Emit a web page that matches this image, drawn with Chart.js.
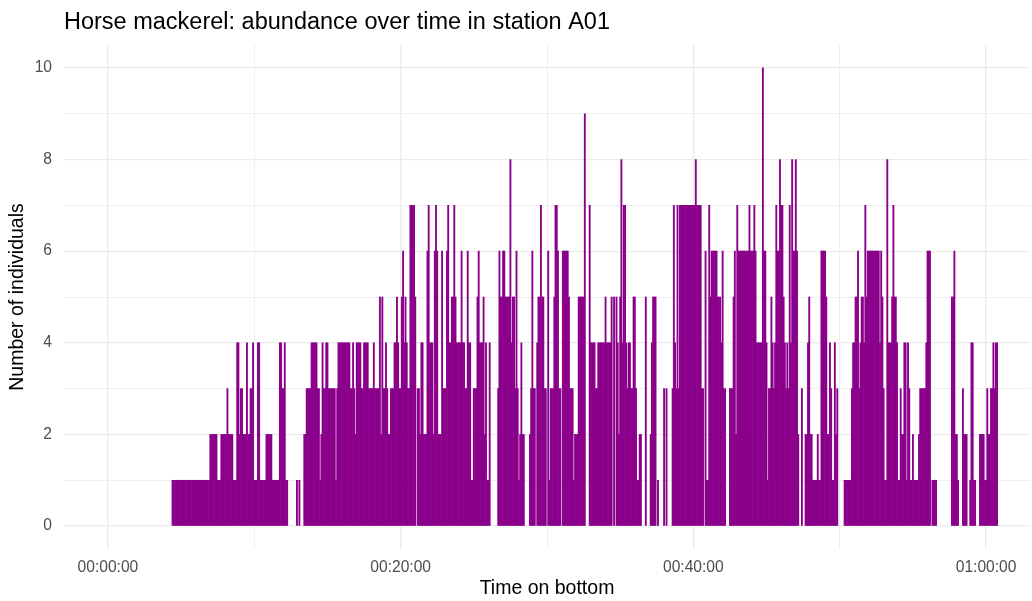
<!DOCTYPE html>
<html>
<head>
<meta charset="utf-8">
<title>Horse mackerel abundance</title>
<script src="https://cdn.jsdelivr.net/npm/chart.js@4/dist/chart.umd.min.js"></script>
<style>
  html, body { margin: 0; padding: 0; background: #fff; }
  #wrap { width: 1032px; height: 601px; }
</style>
</head>
<body>
<div id="wrap"><canvas id="chart" width="1032" height="601"></canvas></div>
<script>
(function(){
  'use strict';

  // counts per 5-second slot, starting at 00:04:25
  const startSec = 265;
  const stepSec = 5;
  const counts = [
    1,1,1,1,1,1,1,1,1,1,1,1,
    1,1,1,1,1,1,1,1,1,1,1,1,
    1,1,1,1,1,1,1,2,2,2,2,2,
    2,1,1,1,2,2,2,2,2,3,2,2,
    2,2,1,1,1,4,4,2,3,3,2,2,
    2,4,2,2,3,3,4,1,1,1,4,4,
    1,1,1,1,1,2,2,2,2,2,1,1,
    1,1,1,1,4,4,3,3,4,1,1,0,
    0,0,0,0,0,0,1,0,1,0,0,0,
    2,2,3,3,3,3,4,4,4,4,4,3,
    3,1,2,4,3,3,4,4,3,3,3,3,
    3,3,1,3,4,4,4,4,4,4,4,4,
    4,4,3,3,4,3,2,4,4,4,4,3,
    3,4,4,4,4,3,3,3,3,4,3,3,
    3,3,5,2,5,3,3,4,3,2,2,3,
    3,3,4,4,5,4,3,3,5,6,4,5,
    4,3,3,7,7,7,7,5,0,3,3,2,
    4,4,2,2,2,6,7,4,4,4,2,6,
    7,6,2,2,2,6,3,3,3,6,7,4,
    4,5,5,7,5,4,4,4,4,6,4,4,
    3,3,6,4,4,1,1,3,3,3,5,6,
    4,4,4,5,2,4,1,1,4,0,0,0,
    0,0,0,3,6,5,5,6,6,5,5,5,
    5,8,4,5,5,3,6,3,1,2,4,2,
    2,0,0,0,0,2,3,6,3,3,0,4,
    5,5,7,5,5,3,3,0,6,1,3,3,
    3,5,7,7,6,3,3,0,6,6,6,6,
    6,5,3,3,3,1,2,2,2,5,5,5,
    5,5,9,0,0,0,7,4,4,4,4,3,
    3,4,4,4,4,4,4,5,4,4,4,4,
    5,0,5,0,5,4,2,5,8,4,7,7,
    4,3,4,4,3,3,5,5,3,1,1,2,
    2,0,0,0,5,0,0,0,2,4,5,5,
    5,0,1,0,0,0,0,3,0,3,0,0,
    0,0,3,7,4,3,7,3,7,7,7,7,
    7,7,7,7,7,7,7,7,7,8,7,7,
    7,7,3,3,0,6,1,1,7,5,6,6,
    6,6,6,5,5,5,4,6,3,3,0,0,
    0,3,3,3,5,6,2,7,6,6,6,6,
    6,6,6,6,6,7,6,6,6,7,6,4,
    4,4,4,4,10,6,6,4,1,3,3,5,
    4,3,4,7,6,6,8,7,7,5,4,3,
    4,3,7,4,8,6,6,8,6,2,0,0,
    3,0,0,2,2,4,5,2,2,1,1,1,
    1,2,1,1,6,6,6,6,5,2,2,4,
    3,1,1,4,2,3,0,0,0,0,0,1,
    1,1,1,1,1,3,4,4,5,5,6,3,
    4,5,5,4,7,5,6,6,6,6,6,6,
    6,6,6,6,4,6,5,3,1,1,8,4,
    4,4,5,7,5,5,4,1,1,3,2,2,
    4,4,1,4,3,1,1,2,1,1,1,1,
    2,3,3,3,3,3,4,6,6,6,0,1,
    1,1,1,0,0,0,0,0,0,0,0,0,
    0,0,0,5,5,6,2,2,1,0,0,0,
    3,2,2,2,0,0,1,4,4,1,1,0,
    0,0,2,2,2,2,1,1,3,2,2,3,
    3,4,3,4,4
  ];

  const xTicks = [0, 600, 1200, 1800, 2400, 3000, 3600];
  const yTicks = [0, 1, 2, 3, 4, 5, 6, 7, 8, 9, 10];

  const times = counts.map((c, i) => startSec + i * stepSec);
  const points = counts.map((c, i) => ({ x: times[i], y: c }));

  const fontFamily = '"Liberation Sans", Arial, sans-serif';
  const gridColor = '#ebebeb';
  const barColor = '#8b008b';

  function hms(sec) {
    const h = Math.floor(sec / 3600);
    const m = Math.floor((sec % 3600) / 60);
    const s = sec % 60;
    return [h, m, s].map(n => String(n).padStart(2, '0')).join(':');
  }

  new Chart(document.getElementById('chart'), {
    type: 'bar',
    data: {
      datasets: [{
        data: points,
        // empty slots get no mark at all
        backgroundColor: ctx => (ctx.raw && ctx.raw.y > 0) ? barColor : 'rgba(0,0,0,0)',
        borderWidth: 0,
        barPercentage: 1,
        categoryPercentage: 1
      }]
    },
    options: {
      responsive: false,
      animation: false,
      layout: { padding: { left: 0, right: 2, top: 0, bottom: 0 } },
      plugins: {
        legend: { display: false },
        tooltip: { enabled: false },
        title: {
          display: true,
          text: 'Horse mackerel: abundance over time in station A01',
          align: 'start',
          fullSize: false,
          color: '#000',
          font: { family: fontFamily, size: 23.5, weight: 'normal', lineHeight: 1.2 },
          padding: { top: 8, bottom: 8.8 }
        }
      },
      scales: {
        x: {
          type: 'linear',
          offset: false,
          min: -180,
          max: 3780,
          afterBuildTicks: s => { s.ticks = xTicks.map(v => ({ value: v })); },
          afterFit: s => { s.height = 52; },
          border: { display: false },
          grid: {
            offset: false,
            drawTicks: false,
            color: gridColor,
            lineWidth: ctx => (ctx.tick && ctx.tick.value % 1200 === 0) ? 1.3 : 0.8
          },
          ticks: {
            autoSkip: false,
            maxRotation: 0,
            padding: 9,
            color: '#4d4d4d',
            font: { family: fontFamily, size: 15.6 },
            callback: v => v % 1200 === 0 ? hms(v) : ''
          },
          title: {
            display: true,
            text: 'Time on bottom',
            color: '#000',
            font: { family: fontFamily, size: 19.5, lineHeight: 1.2 },
            padding: { top: 0, bottom: 1 }
          }
        },
        y: {
          min: -0.5,
          max: 10.5,
          afterBuildTicks: s => { s.ticks = yTicks.map(v => ({ value: v })); },
          afterFit: s => { s.width = 64; },
          border: { display: false },
          grid: {
            drawTicks: false,
            color: gridColor,
            lineWidth: ctx => (ctx.tick && ctx.tick.value % 2 === 0) ? 1.3 : 0.8
          },
          ticks: {
            autoSkip: false,
            padding: 12,
            color: '#4d4d4d',
            font: { family: fontFamily, size: 15.6 },
            callback: v => v % 2 === 0 ? String(v) : ''
          },
          title: {
            display: true,
            text: 'Number of individuals',
            color: '#000',
            font: { family: fontFamily, size: 19.5, lineHeight: 1.2 },
            padding: { top: 6, bottom: 0 }
          }
        }
      }
    }
  });
}());
</script>
</body>
</html>
